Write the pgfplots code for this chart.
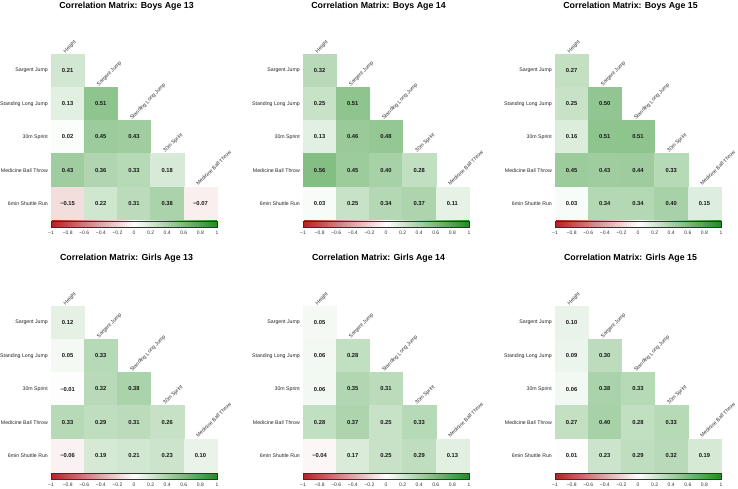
\documentclass[border=0pt]{standalone}
\usepackage{fontspec}
\setmainfont{Liberation Sans}
\usepackage{pgfplots}
\usepackage{pgfplotstable}
\pgfplotsset{compat=1.18}

% lower-triangular correlation matrices: c = column, r = row, v = correlation
\pgfplotstableread{
c r v
0 0 0.21
0 1 0.13
1 1 0.51
0 2 0.02
1 2 0.45
2 2 0.43
0 3 0.43
1 3 0.36
2 3 0.33
3 3 0.18
0 4 -0.15
1 4 0.22
2 4 0.31
3 4 0.38
4 4 -0.07
}\boysXIII
\pgfplotstableread{
c r v
0 0 0.32
0 1 0.25
1 1 0.51
0 2 0.13
1 2 0.46
2 2 0.48
0 3 0.56
1 3 0.45
2 3 0.40
3 3 0.28
0 4 0.03
1 4 0.25
2 4 0.34
3 4 0.37
4 4 0.11
}\boysXIV
\pgfplotstableread{
c r v
0 0 0.27
0 1 0.25
1 1 0.50
0 2 0.16
1 2 0.51
2 2 0.51
0 3 0.45
1 3 0.43
2 3 0.44
3 3 0.33
0 4 0.03
1 4 0.34
2 4 0.34
3 4 0.40
4 4 0.15
}\boysXV
\pgfplotstableread{
c r v
0 0 0.12
0 1 0.05
1 1 0.33
0 2 -0.01
1 2 0.32
2 2 0.38
0 3 0.33
1 3 0.29
2 3 0.31
3 3 0.26
0 4 -0.06
1 4 0.19
2 4 0.21
3 4 0.23
4 4 0.10
}\girlsXIII
\pgfplotstableread{
c r v
0 0 0.05
0 1 0.06
1 1 0.28
0 2 0.06
1 2 0.35
2 2 0.31
0 3 0.28
1 3 0.37
2 3 0.25
3 3 0.33
0 4 -0.04
1 4 0.17
2 4 0.25
3 4 0.29
4 4 0.13
}\girlsXIV
\pgfplotstableread{
c r v
0 0 0.10
0 1 0.09
1 1 0.30
0 2 0.06
1 2 0.38
2 2 0.33
0 3 0.27
1 3 0.40
2 3 0.28
3 3 0.33
0 4 0.01
1 4 0.23
2 4 0.29
3 4 0.32
4 4 0.19
}\girlsXV

% cell text: two decimals, typographic minus for negative values
\def\checkminus#1#2\relax{\ifx-#1−#2\else#1#2\fi}
\newcommand\celltext{%
  \pgfmathprintnumberto[fixed,fixed zerofill,precision=2,assume math mode=true]{\pgfplotspointmeta}{\cellnum}%
  \expandafter\checkminus\cellnum\relax}

\tikzset{
  dlab/.style={rotate=45, anchor=base west, inner sep=0pt, xshift=-1bp, yshift=2bp,
    font=\fontsize{5.2bp}{6bp}\selectfont, text=black!80},
}

\pgfplotsset{
  corrmat/.style={
    scale only axis, width=166bp, height=166bp,
    xmin=-0.5, xmax=4.5, ymin=-0.5, ymax=4.5, y dir=reverse,
    axis line style={draw=none}, xtick=\empty,
    ytick={0,1,2,3,4},
    yticklabels={Sargent Jump, Standing Long Jump, 30m Sprint, Medicine Ball Throw, 6min Shuttle Run},
    major tick length=0pt,
    yticklabel style={font=\fontsize{5.2bp}{6bp}\selectfont, inner sep=0pt, xshift=-3bp, text=black!85},
    clip=false,
    colormap={rwg}{rgb255=(178,34,34) rgb255=(255,255,255) rgb255=(34,139,34)},
    point meta min=-1, point meta max=1,
    colorbar horizontal,
    colorbar shift/.style={yshift=-1bp},
    colorbar style={
      at={(parent axis.south west)}, anchor=north west,
      scale only axis, width=166bp, height=6bp,
      axis line style={draw=black!80, line width=0.6bp},
      xtick={-1,-0.8,-0.6,-0.4,-0.2,0,0.2,0.4,0.6,0.8,1},
      xticklabels={−1,−0.8,−0.6,−0.4,−0.2,0,0.2,0.4,0.6,0.8,1},
      xtick style={draw=none}, major tick length=0pt,
      xticklabel style={font=\fontsize{5bp}{6bp}\selectfont, text=black!80, inner sep=0pt, yshift=-3.5bp},
      ytick=\empty,
    },
    title style={font=\fontsize{8.8bp}{10bp}\selectfont\bfseries, at={(0.455,1)}, anchor=north, yshift=46bp, inner sep=0pt},
  },
}

\newcommand\corrpanel[4]{%
  \begin{axis}[corrmat, at={(#1bp,-#2bp)}, anchor=north west, title={#4}]
    % coloured cells
    \addplot[scatter, only marks, mark=square*, mark size=16.6bp,
      point meta=explicit,
      scatter/use mapped color={draw=mapped color, fill=mapped color}]
      table[x=c, y=r, meta=v] {#3};
    % printed coefficients
    \addplot[draw=none, mark=none,
      point meta=explicit,
      nodes near coords={\celltext},
      every node near coord/.append style={anchor=center, text=black!90,
        font=\fontsize{5.8bp}{6bp}\selectfont\bfseries}]
      table[x=c, y=r, meta=v] {#3};
    \node[dlab] at (axis cs:0,-0.5) {Height};
    \node[dlab] at (axis cs:1,0.5) {Sargent Jump};
    \node[dlab] at (axis cs:2,1.5) {Standing Long Jump};
    \node[dlab] at (axis cs:3,2.5) {30m Sprint};
    \node[dlab] at (axis cs:4,3.5) {Medicine Ball Throw};
  \end{axis}}

\begin{document}
\begin{tikzpicture}
  \useasboundingbox (0,0) rectangle (738bp,-489bp);
  \corrpanel{51}{54}{\boysXIII}{Correlation Matrix: Boys Age 13}
  \corrpanel{303}{54}{\boysXIV}{Correlation Matrix: Boys Age 14}
  \corrpanel{555}{54}{\boysXV}{Correlation Matrix: Boys Age 15}
  \corrpanel{51}{306}{\girlsXIII}{Correlation Matrix: Girls Age 13}
  \corrpanel{303}{306}{\girlsXIV}{Correlation Matrix: Girls Age 14}
  \corrpanel{555}{306}{\girlsXV}{Correlation Matrix: Girls Age 15}
\end{tikzpicture}
\end{document}
